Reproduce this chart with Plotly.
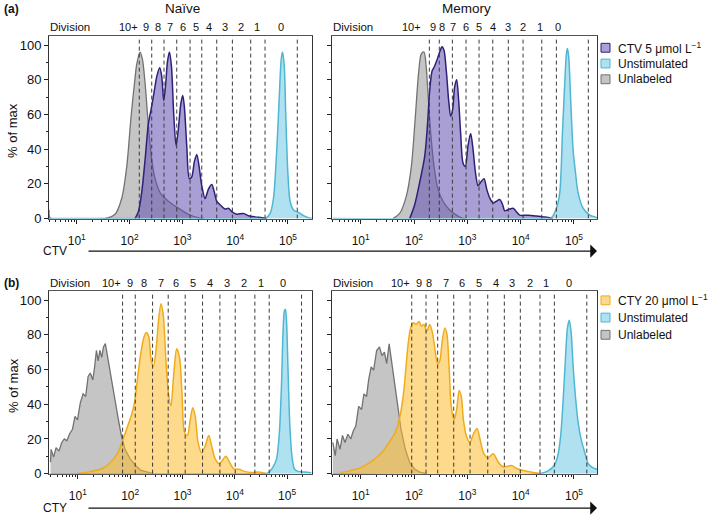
import numpy as np
import plotly.graph_objects as go

# ---------------- DATA ----------------
# (a) Naive, CTV
naive_unlab_x = [3.0, 3.2, 34, 53, 71, 88.5, 107, 124, 137, 158, 175, 197, 228, 263, 305, 379, 544, 843, 1300, 2010, 2600]
naive_unlab_y = [5, 0, 0, 2.5, 11.6, 30, 59, 78, 89, 96, 92, 78, 53, 34, 23, 15, 10, 6, 2.5, 0.5, 0]
naive_ctv_x = [127, 147, 170, 197, 228, 256, 296, 328, 373, 407, 444, 485, 521, 569, 621, 687, 761, 843, 933, 1018,
               1095, 1211, 1360, 1507, 1693, 1877, 2077, 2330, 2697, 3118, 3608, 4049, 4483, 5188, 6449, 7463, 8630,
               10720, 14340, 17840, 23860, 31900, 39600]
naive_ctv_y = [0, 4, 15, 34, 55, 63, 74, 82, 87, 82, 68, 78, 90, 96, 88, 60, 42, 52, 66, 71,
               64, 42, 23, 24, 33, 37, 30, 19, 11.6, 17, 19.7, 15, 10, 8, 5.5, 6, 4,
               2.5, 3, 1.7, 1, 0.5, 0]
naive_uns_x = [3, 30000, 36900, 45900, 53100, 61400, 67900, 74100, 78600, 84600, 91000, 99300, 109800, 127000,
               157900, 196400, 244000, 290000]
naive_uns_y = [0, 0, 0, 3, 11.6, 40, 68, 91, 96, 89, 59, 27, 10, 5, 3.6, 1.7, 0.5, 0]

# (a) Memory, CTV
memory_unlab_x = [40.4, 53.8, 71.8, 89.1, 106, 122, 137, 154, 170, 183, 206, 238, 282, 350, 467, 622, 773, 900]
memory_unlab_y = [0, 3, 13, 30, 59, 84, 95, 96, 87, 72, 49, 30, 17, 10, 5, 2, 0.5, 0]
memory_ctv_x = [83, 103, 128, 159, 178, 197, 218, 244, 274, 303, 335, 365, 404, 447, 487, 531, 579, 631, 688, 750,
                830, 918, 1030, 1155, 1279, 1415, 1588, 1782, 2058, 2309, 2629, 3036, 3506, 4048, 4600, 5025, 6237,
                7208, 8321, 9610, 13780, 19760, 26360, 35170, 40000]
memory_ctv_y = [0, 8, 21, 36, 53, 74, 85, 88, 92, 96, 99, 97, 85, 68, 59, 63, 76, 80, 68, 49,
                32, 30, 42, 49, 40, 27, 19, 21, 23, 17, 12, 9, 10, 11, 8, 4.5, 5.5,
                6, 4, 2, 2, 1.5, 1, 0.5, 0]
memory_uns_x = [3, 30000, 37750, 46900, 54200, 60800, 67100, 72100, 75300, 79800, 86900, 96100, 106400, 119400,
                148200, 197700, 245500, 290000]
memory_uns_y = [0, 0, 0.5, 6, 15, 49, 78, 95, 98, 93, 68, 40, 27, 15, 6, 2, 1, 0]

# (b) Naive, CTY
naive2_unlab_x = [3.0, 3.08, 3.43, 3.83, 4.34, 4.92, 5.50, 6.14, 6.96, 7.88, 8.81, 9.84, 11.1, 12.6, 14.1, 15.7,
                  17.3, 19.3, 20.9, 22.6, 24.4, 26.4, 28.6, 30.9, 33.5, 36.2, 39.2, 44.4, 49.5, 58, 67.8, 79.4,
                  100, 127, 161, 220, 280]
naive2_unlab_y = [6.6, 14, 9.5, 15, 13, 18, 20, 19, 23, 25.6, 33, 31, 40.7, 46, 44.5, 56,
                  58, 54, 61.5, 71, 65, 71, 67, 73, 75, 69, 61.5, 54, 44.5, 33, 22, 14,
                  8.5, 4.7, 1.9, 0.6, 0]
naive_cty_x = [9.5, 17.9, 28.6, 42.4, 58, 73.4, 88.6, 104, 121, 142, 161, 183, 204, 228, 250, 279, 311, 353, 388,
               427, 483, 540, 602, 683, 774, 877, 979, 1093, 1239, 1405, 1570, 1752, 1985, 2323, 2718, 3182, 3608,
               4220, 5093, 6761, 7910, 9550, 12100, 15300, 20900, 28700, 39300]
naive_cty_y = [0, 1.3, 2.8, 6.6, 12, 20, 27, 33, 41, 58, 70, 78.6, 81.4, 78.6, 66, 62, 71, 90, 98,
               92, 65, 46, 39, 58, 72, 67, 46, 23.7, 22, 31, 38, 33, 18, 12, 16, 22, 16,
               8.5, 5.7, 10, 6.6, 2.8, 2.5, 1.3, 0.6, 0.9, 0]
naive2_uns_x = [3, 35000, 42400, 53700, 62800, 71200, 78300, 83400, 88800, 93000, 97500, 103800, 112300, 123400,
                137700, 161000, 220000, 290000]
naive2_uns_y = [0, 0, 0.3, 3.8, 8.5, 23.7, 52, 80.5, 93.8, 94.7, 88, 61.5, 29, 10.4, 2.8, 1.3, 0.9, 0.5]

# (b) Memory, CTY
memory2_unlab_x = [3.0, 3.34, 3.61, 4.09, 4.56, 5.08, 5.75, 6.51, 7.26, 8.10, 9.16, 10.4, 11.5, 12.9, 14.1, 15.7,
                   17.5, 19.9, 22.5, 25.1, 27.9, 30.7, 34.2, 38.1, 43.1, 48.8, 57, 68.6, 82.6, 101, 128, 174]
memory2_unlab_y = [18, 10.4, 20, 14, 22, 18, 22.7, 20, 24.6, 27.5, 38.8, 37, 46, 44.5, 54, 61.5,
                   59.7, 71, 73, 68, 70, 63.4, 74.8, 63.4, 52, 40.7, 25.6, 14.2, 6.6, 2.8, 0.9, 0]
memory_cty_x = [4.2, 6.7, 10.7, 17.0, 25.1, 34.2, 44.5, 54.4, 63.5, 70.8, 77.7, 86.6, 98, 109, 124, 138, 154, 174,
                197, 219, 244, 277, 304, 339, 378, 414, 455, 499, 565, 630, 702, 771, 845, 957, 1117, 1306, 1524,
                1726, 2014, 2427, 3062, 3744, 4651, 6148, 6800, 8379, 12340, 18180, 24000]
memory_cty_y = [0.6, 1.9, 3.8, 7.6, 12.3, 18, 23.7, 33, 46, 61.5, 74.8, 84, 87, 86, 87.7, 85, 86, 82,
                86, 82, 73, 63.4, 65, 76.7, 84, 80.5, 61.5, 38.8, 31, 36.9, 48, 44.5, 31, 21.8, 18, 23, 26,
                20, 12, 9, 11.5, 7, 4, 4.5, 4.7, 3, 1.5, 0.5, 0]
memory2_uns_x = [3, 22900, 33800, 42600, 49700, 56300, 62700, 68800, 75500, 81600, 88200, 96800, 107900, 120300,
                 136100, 158900, 185500, 216700, 252800, 290000]
memory2_uns_y = [0, 0, 1.9, 4.7, 10.4, 21.8, 42.6, 65, 84, 88.4, 82, 61.5, 42.6, 29, 19.9, 12.3, 5.7, 3.8, 2.8, 2.5]

# Division gate boundaries
naive_ctv_gates = [153, 263, 450, 783, 1400, 2330, 4480, 8860, 19700, 36800, 150000]
memory_ctv_gates = [194, 298, 524, 946, 1660, 3000, 5870, 11100, 24900, 46800, 186000]
naive_cty_gates = [71.6, 125, 268, 533, 1127, 2420, 5190, 10190, 24200, 45500, 189000]
memory_cty_gates = [90.6, 168, 278, 556, 1125, 2415, 4945, 9860, 23100, 42900, 174000]

# Division labels and their positions
division_labels = ["10+", "9", "8", "7", "6", "5", "4", "3", "2", "1", "0"]
naive_ctv_label_x = [95, 203, 342, 585, 1018, 1816, 3243, 6440, 12770, 25640, 74000]
memory_ctv_label_x = [90.6, 228, 332, 535, 946, 1683, 3076, 5888, 11250, 23100, 50900]
naive_cty_label_x = [43.9, 97.8, 183, 381, 759, 1622, 3373, 7096, 15170, 31550, 84000]
memory_cty_label_x = [57, 124, 194, 398, 785, 1679, 3451, 6980, 15000, 30000, 82000]

x_tick_vals = [10, 100, 1000, 10000, 100000]
x_tick_text = ["10<sup>1</sup>", "10<sup>2</sup>", "10<sup>3</sup>", "10<sup>4</sup>", "10<sup>5</sup>"]
y_tick_vals = [0, 20, 40, 60, 80, 100]

# ---------------- STYLE ----------------
FONT = "Liberation Sans, Arial, sans-serif"
CTV_LINE, CTV_FILL, CTV_SQ = "#2d2179", "rgba(98,80,178,0.55)", "#aaa0d6"
CTY_LINE, CTY_FILL, CTY_SQ = "#f0ab1a", "rgba(253,190,45,0.55)", "#fdd98f"
UNS_LINE, UNS_FILL, UNS_SQ = "#4fb6d3", "rgba(95,195,225,0.5)", "#afe1f0"
UNL_LINE, UNL_FILL, UNL_SQ = "#727272", "rgba(140,140,140,0.5)", "#c4c4c4"

W, H = 709, 524
def px(xp):
    return xp / W
def py(yp):
    return 1 - yp / H

col_dom = [[px(49), px(312)], [px(332), px(597)]]
row_dom = [[py(222), py(37)], [py(481), py(296)]]
x_ranges = [[0.475, 5.455], [0.462, 5.432], [0.448, 5.476], [0.462, 5.432]]

panels = [
    dict(unl=(naive_unlab_x, naive_unlab_y, "spline"), dye=(naive_ctv_x, naive_ctv_y), uns=(naive_uns_x, naive_uns_y),
         gates=naive_ctv_gates, lab=naive_ctv_label_x, line=CTV_LINE, fill=CTV_FILL),
    dict(unl=(memory_unlab_x, memory_unlab_y, "spline"), dye=(memory_ctv_x, memory_ctv_y), uns=(memory_uns_x, memory_uns_y),
         gates=memory_ctv_gates, lab=memory_ctv_label_x, line=CTV_LINE, fill=CTV_FILL),
    dict(unl=(naive2_unlab_x, naive2_unlab_y, "linear"), dye=(naive_cty_x, naive_cty_y), uns=(naive2_uns_x, naive2_uns_y),
         gates=naive_cty_gates, lab=naive_cty_label_x, line=CTY_LINE, fill=CTY_FILL),
    dict(unl=(memory2_unlab_x, memory2_unlab_y, "linear"), dye=(memory_cty_x, memory_cty_y), uns=(memory2_uns_x, memory2_uns_y),
         gates=memory_cty_gates, lab=memory_cty_label_x, line=CTY_LINE, fill=CTY_FILL),
]

fig = go.Figure()
minor_vals = [k * 10 ** e for e in range(0, 6) for k in range(2, 10)]
annotations = []
shapes = []

def txt(text, x, y, size=12, xanchor="center", xref="paper", **kw):
    d = dict(text=text, x=x, y=y, xref=xref, yref="paper", xanchor=xanchor, yanchor="middle",
             showarrow=False, font=dict(family=FONT, size=size, color="#111"))
    d.update(kw)
    return d

for i, p in enumerate(panels):
    n = i + 1
    xa = "x" if n == 1 else f"x{n}"
    ya = "y" if n == 1 else f"y{n}"
    ux, uy, ushape = p["unl"]
    fig.add_trace(go.Scatter(x=ux, y=uy, xaxis=xa, yaxis=ya, mode="lines", fill="tozeroy",
                             line=dict(color=UNL_LINE, width=1.3, shape=ushape, smoothing=0.8),
                             fillcolor=UNL_FILL, showlegend=False, hoverinfo="skip"))
    dx, dy = p["dye"]
    fig.add_trace(go.Scatter(x=dx, y=dy, xaxis=xa, yaxis=ya, mode="lines", fill="tozeroy",
                             line=dict(color=p["line"], width=1.5, shape="spline", smoothing=0.8),
                             fillcolor=p["fill"], showlegend=False, hoverinfo="skip"))
    sx, sy = p["uns"]
    fig.add_trace(go.Scatter(x=sx, y=sy, xaxis=xa, yaxis=ya, mode="lines", fill="tozeroy",
                             line=dict(color=UNS_LINE, width=1.5, shape="spline", smoothing=0.8),
                             fillcolor=UNS_FILL, showlegend=False, hoverinfo="skip"))
    gx, gy = [], []
    for g in p["gates"]:
        gx += [g, g, None]
        gy += [0, 105, None]
    fig.add_trace(go.Scatter(x=gx, y=gy, xaxis=xa, yaxis=ya, mode="lines",
                             line=dict(color="#3a3a3a", width=1, dash="4px,3px"),
                             showlegend=False, hoverinfo="skip"))
    r, c = divmod(i, 2)
    xkey = "xaxis" if n == 1 else f"xaxis{n}"
    ykey = "yaxis" if n == 1 else f"yaxis{n}"
    fig.layout[xkey] = dict(domain=col_dom[c], anchor=ya, type="log", range=x_ranges[i],
                            tickvals=x_tick_vals, ticktext=x_tick_text, ticks="outside", ticklen=4,
                            ticklabelstandoff=7,
                            tickcolor="#222", showgrid=False, zeroline=False, showline=True,
                            linecolor="#555", linewidth=1, mirror=True,
                            tickfont=dict(family=FONT, size=12, color="#111"),
                            minor=dict(tickmode="array", tickvals=minor_vals, ticks="outside",
                                       ticklen=2, tickcolor="#222", showgrid=False))
    fig.layout[ykey] = dict(domain=row_dom[r], anchor=xa, range=[0, 105], tickvals=y_tick_vals,
                            ticks="outside", ticklen=4, tickcolor="#222", showgrid=False, zeroline=False,
                            showline=True, linecolor="#333", linewidth=1, mirror=True,
                            showticklabels=(c == 0),
                            tickfont=dict(family=FONT, size=13, color="#111"),
                            minor=dict(dtick=10, ticks="outside", ticklen=2, tickcolor="#222", showgrid=False))
    # Division row
    row_y = py(27) if r == 0 else py(287)
    annotations.append(txt("Division", col_dom[c][0] - 0.001, row_y, size=11.5, xanchor="left"))
    for lab, lx in zip(division_labels, p["lab"]):
        annotations.append(txt(lab, np.log10(lx), row_y, size=11, xref=xa))

# titles
annotations.append(txt("Naïve", px(182), py(9), size=13.5))
annotations.append(txt("Memory", px(466), py(9), size=13.5))
annotations.append(txt("<b>(a)</b>", px(2), py(9), size=12, xanchor="left"))
annotations.append(txt("<b>(b)</b>", px(2), py(287), size=12, xanchor="left"))
for yc in [133, 392]:
    annotations.append(txt("% of max", px(13), py(yc), size=13, textangle=-90))
# axis label + arrow
for lbl, yc in [("CTV", 255), ("CTY", 516)]:
    annotations.append(txt(lbl, px(55), py(yc), size=12))
    annotations.append(dict(text="", x=px(597), y=py(yc), ax=-(597 - 87), ay=0, xref="paper", yref="paper",
                            axref="pixel", ayref="pixel", showarrow=True, arrowhead=1, arrowsize=1.6,
                            arrowwidth=1.4, arrowcolor="#111"))

# legends
legends = [
    ([("CTV 5 μmol L<sup>−1</sup>", CTV_SQ, CTV_LINE), ("Unstimulated", UNS_SQ, UNS_LINE),
      ("Unlabeled", UNL_SQ, UNL_LINE)], [48.5, 64.5, 80.5]),
    ([("CTY 20 μmol L<sup>−1</sup>", CTY_SQ, CTY_LINE), ("Unstimulated", UNS_SQ, UNS_LINE),
      ("Unlabeled", UNL_SQ, UNL_LINE)], [305, 322.5, 340]),
]
for items, ys in legends:
    for (t, sq, ln), yc in zip(items, ys):
        shapes.append(dict(type="rect", xref="paper", yref="paper", x0=px(601), x1=px(610),
                           y0=py(yc + 4.5), y1=py(yc - 4.5), fillcolor=sq, line=dict(color=ln, width=1)))
        annotations.append(txt(t, px(616), py(yc), size=12, xanchor="left"))

fig.update_layout(width=W, height=H, margin=dict(l=0, r=0, t=0, b=0), plot_bgcolor="white",
                  paper_bgcolor="white", showlegend=False, annotations=annotations, shapes=shapes)
fig.write_html("out.html", config={"displayModeBar": False},
               post_script="document.body.style.margin='0';")
